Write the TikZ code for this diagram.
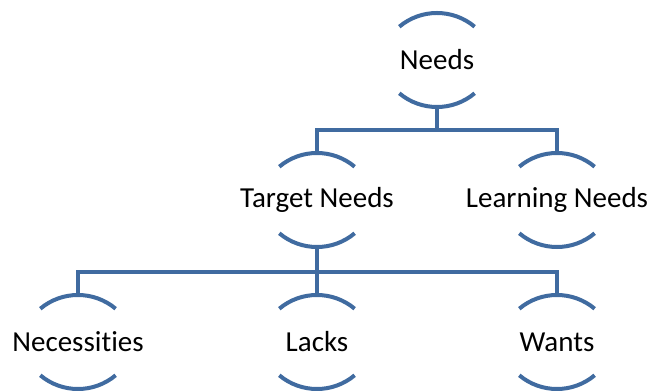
\documentclass[tikz,border=0pt]{standalone}
\usepackage{fontspec}
\setmainfont[Ligatures=NoCommon]{Carlito}
\definecolor{linkblue}{RGB}{64,107,160}
\begin{document}
\begin{tikzpicture}[x=1pt,y=1pt,
  lbl/.style={font=\fontsize{29}{32}\selectfont, text=black, inner sep=0pt},
  link/.style={draw=linkblue, line width=4pt},
  arcline/.style={draw=linkblue, line width=4pt}]
\useasboundingbox (0,0) rectangle (651,391);
% nodes
\node[lbl] (needs) at (437,331) {Needs};
\node[lbl] (target) at (317,191) {Target Needs};
\node[lbl] (learning) at (557,191) {Learning Needs};
\node[lbl] (nec) at (78,49) {Necessities};
\node[lbl] (lacks) at (317,49) {Lacks};
\node[lbl] (wants) at (557,49) {Wants};
% arcs above and below each label
\foreach \n in {needs,target,learning,nec,lacks,wants}{
  \draw[arcline] ([shift={(-37.7,33.3)}]\n.center) arc[start angle=130,end angle=50,radius=58.6];
  \draw[arcline] ([shift={(-37.7,-33.3)}]\n.center) arc[start angle=230,end angle=310,radius=58.6];
  \coordinate (\n-t) at ([yshift=47]\n.center);
  \coordinate (\n-b) at ([yshift=-47]\n.center);
}
% buses
\coordinate (bus1) at (437,261);
\coordinate (bus2) at (317,119);
\draw[link] (needs-b) -- (bus1) -| (target-t);
\draw[link] (bus1) -| (learning-t);
\draw[link] (target-b) -- (bus2) -| (nec-t);
\draw[link] (bus2) -- (lacks-t);
\draw[link] (bus2) -| (wants-t);
\end{tikzpicture}
\end{document}
